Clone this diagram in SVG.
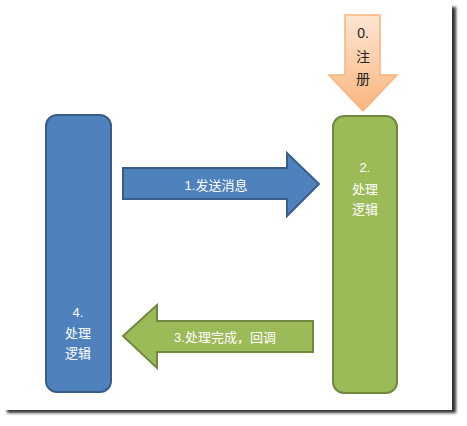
<svg xmlns="http://www.w3.org/2000/svg" width="467" height="426" viewBox="0 0 467 426">
<defs>
<style>
.t{font-family:"Liberation Sans","Noto Sans CJK SC",sans-serif;font-size:13px;fill:#fff;text-anchor:middle}
.d{fill:#222;font-size:14px}
.blue{fill:#4F81BD;stroke:#385D8A;stroke-width:2}
.green{fill:#9BBB59;stroke:#71893F;stroke-width:2}
</style>
<linearGradient id="og" x1="0" y1="0" x2="0" y2="1">
<stop offset="0" stop-color="#FDE6D2"/>
<stop offset="1" stop-color="#FAB57F"/>
</linearGradient>
<filter id="sh" x="-5%" y="-5%" width="110%" height="110%">
<feGaussianBlur stdDeviation="1.8"/>
</filter>
</defs>
<rect width="467" height="426" fill="#fff"/>
<rect x="7" y="7" width="449" height="406" fill="#333" filter="url(#sh)"/>
<rect x="0" y="0" width="452" height="410" fill="#fff"/>

<g id="node-register">
<path d="M345,15 H380 V75 H397 L363,111 L329,75 H345 Z" fill="url(#og)" stroke="#F9B27A" stroke-width="1.5"/>
<text class="t d" x="363" y="38">0.</text>
<text class="t d" x="363" y="62">注</text>
<text class="t d" x="363" y="84">册</text>
</g>

<g id="node-left">
<rect class="blue" x="46" y="115" width="65" height="277" rx="11"/>
<text class="t" x="78" y="317">4.</text>
<text class="t" x="78" y="338">处理</text>
<text class="t" x="78" y="358">逻辑</text>
</g>

<g id="node-right">
<rect class="green" x="333" y="116" width="64" height="277" rx="11"/>
<text class="t" x="365" y="172">2.</text>
<text class="t" x="365" y="194">处理</text>
<text class="t" x="365" y="214">逻辑</text>
</g>

<g id="connectors">
<g id="send">
<path class="blue" d="M123,168 H287 V153 L319,184 L287,216 V199 H123 Z"/>
<text class="t" x="216" y="190">1.发送消息</text>
</g>
<g id="callback">
<path class="green" d="M313,321 H157 V305 L123,336 L157,368 V352 H313 Z"/>
<text class="t" x="225" y="342">3.处理完成，回调</text>
</g>
</g>
</svg>
